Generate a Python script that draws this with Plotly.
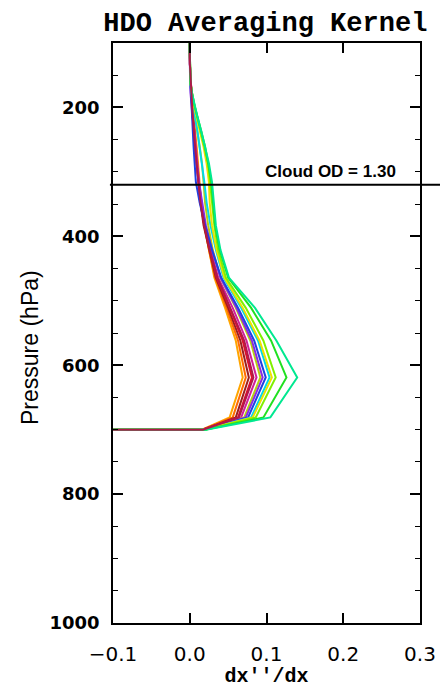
import plotly.graph_objects as go

# Retrieval pressure levels (hPa), surface first
pressure = [700, 681, 619, 562, 511, 464, 421, 383, 348, 316, 287, 261,
            237, 215, 196, 178, 162, 147, 133, 121, 110, 100]

# Fill value drawn at the surface level (below-ground part of the kernel)
surface_fill = -0.1

# Averaging-kernel rows (dx''/dx) for each level, one list per row
k_orange = [0.016, 0.052, 0.069, 0.060, 0.046, 0.032, 0.025, 0.019, 0.015, 0.013, 0.011,
            0.009, 0.007, 0.005, 0.003, 0.002, 0.001, 0.0005, 0.0002, 0.0001, 0.0, 0.0]
k_darkorange = [0.016, 0.056, 0.073, 0.063, 0.048, 0.033, 0.025, 0.019, 0.015, 0.012, 0.010,
                0.008, 0.006, 0.005, 0.003, 0.002, 0.001, 0.0005, 0.0002, 0.0001, 0.0, 0.0]
k_brown = [0.017, 0.060, 0.077, 0.066, 0.050, 0.034, 0.025, 0.018, 0.014, 0.011, 0.009,
           0.007, 0.006, 0.004, 0.003, 0.002, 0.001, 0.0005, 0.0002, 0.0001, 0.0, 0.0]
k_red = [0.017, 0.063, 0.081, 0.069, 0.052, 0.035, 0.026, 0.019, 0.014, 0.011, 0.009,
         0.007, 0.005, 0.004, 0.003, 0.002, 0.001, 0.0005, 0.0002, 0.0001, 0.0, 0.0]
k_magenta = [0.018, 0.067, 0.087, 0.074, 0.056, 0.037, 0.027, 0.020, 0.015, 0.012, 0.010,
             0.008, 0.006, 0.004, 0.003, 0.002, 0.001, 0.0005, 0.0002, 0.0001, 0.0, 0.0]
k_olive = [0.018, 0.071, 0.092, 0.079, 0.060, 0.040, 0.030, 0.024, 0.020, 0.018, 0.016,
           0.013, 0.010, 0.007, 0.004, 0.002, 0.001, 0.0005, 0.0002, 0.0001, 0.0, 0.0]
k_violet = [0.018, 0.073, 0.095, 0.081, 0.061, 0.040, 0.029, 0.021, 0.016, 0.012, 0.009,
            0.007, 0.005, 0.004, 0.002, 0.001, 0.0005, 0.0003, 0.0002, 0.0001, 0.0, 0.0]
k_blue = [0.019, 0.076, 0.099, 0.084, 0.063, 0.041, 0.029, 0.020, 0.013, 0.008, 0.006,
          0.005, 0.004, 0.003, 0.002, 0.001, 0.0005, 0.0003, 0.0002, 0.0001, 0.0, 0.0]
k_cyan = [0.019, 0.080, 0.104, 0.089, 0.067, 0.044, 0.034, 0.027, 0.022, 0.019, 0.016,
          0.013, 0.010, 0.007, 0.004, 0.002, 0.001, 0.0005, 0.0002, 0.0001, 0.0, 0.0]
k_yellow = [0.019, 0.082, 0.107, 0.091, 0.069, 0.045, 0.035, 0.029, 0.026, 0.025, 0.022,
            0.018, 0.013, 0.009, 0.005, 0.003, 0.001, 0.0005, 0.0002, 0.0001, 0.0, 0.0]
k_lime = [0.020, 0.086, 0.112, 0.096, 0.073, 0.047, 0.037, 0.032, 0.029, 0.027, 0.024,
          0.019, 0.014, 0.010, 0.006, 0.003, 0.001, 0.0005, 0.0002, 0.0001, 0.0, 0.0]
k_green = [0.020, 0.096, 0.126, 0.106, 0.080, 0.050, 0.039, 0.033, 0.030, 0.028, 0.024,
           0.020, 0.015, 0.010, 0.006, 0.003, 0.001, 0.0005, 0.0002, 0.0001, 0.0, 0.0]
k_spring = [0.021, 0.105, 0.140, 0.113, 0.085, 0.051, 0.040, 0.034, 0.031, 0.029, 0.025,
            0.020, 0.015, 0.010, 0.006, 0.003, 0.001, 0.0005, 0.0002, 0.0001, 0.0, 0.0]
k_crimson = [0.017, 0.064, 0.083, 0.071, 0.053, 0.036, 0.026, 0.019, 0.014, 0.011, 0.009,
             0.007, 0.005, 0.004, 0.003, 0.002, 0.001, 0.0005, 0.0002, 0.0001, 0.0, 0.0]

rows = [k_orange, k_darkorange, k_brown, k_red, k_magenta, k_olive, k_violet,
        k_blue, k_cyan, k_yellow, k_lime, k_green, k_spring, k_crimson]
row_colors = ["#FFA500", "#FF6A00", "#9A1F1F", "#E0102A", "#D0209A", "#B8D010", "#8A2BE2",
              "#2040E0", "#00D8E8", "#F0E000", "#80F000", "#20E020", "#00E890", "#B01848"]

cloud_pressure = 320
cloud_od = 1.30

x_ticks = [-0.1, 0.0, 0.1, 0.2, 0.3]
x_ticklabels = ["\u22120.1", "0.0", "0.1", "0.2", "0.3"]
y_ticks = [200, 400, 600, 800, 1000]

fig = go.Figure()
for row, col in zip(rows, row_colors):
    fig.add_trace(go.Scatter(
        x=[surface_fill] + row,
        y=[pressure[0]] + pressure,
        mode="lines",
        line=dict(color=col, width=2),
        showlegend=False,
        hoverinfo="skip",
    ))

# Cloud top marker line, running past the right frame edge
fig.add_shape(type="line", xref="paper", yref="y",
              x0=-0.01, x1=1.07, y0=cloud_pressure, y1=cloud_pressure,
              line=dict(color="black", width=2), layer="above")
fig.add_annotation(xref="x", yref="y", x=0.271, y=cloud_pressure,
                   xanchor="right", yanchor="bottom", yshift=2,
                   text="<b>Cloud OD = %.2f</b>" % cloud_od, showarrow=False,
                   font=dict(family="Liberation Sans", size=17, color="black"))

# Vertical axis title, placed beside the tick labels
fig.add_annotation(xref="paper", yref="paper", x=-0.272, y=0.475,
                   xanchor="center", yanchor="middle", textangle=-90,
                   text="Pressure (hPa)", showarrow=False,
                   font=dict(family="Liberation Sans", size=23, color="black",
                             weight=500))

fig.update_layout(
    width=440, height=688,
    margin=dict(l=113, r=20, t=43, b=65, autoexpand=False),
    paper_bgcolor="white", plot_bgcolor="white",
    title=dict(text="HDO Averaging Kernel", x=0.603, xanchor="center",
               y=0.968, yanchor="middle",
               font=dict(family="Liberation Mono", size=27, color="black",
                         weight="bold")),
)

fig.update_xaxes(
    range=[-0.1, 0.3], tickvals=x_ticks, ticktext=x_ticklabels,
    ticks="inside", ticklen=10, tickwidth=1.5, tickcolor="black",
    showline=True, linecolor="black", linewidth=1.8, mirror="ticks",
    showgrid=False, zeroline=False, automargin=False, ticklabelstandoff=12,
    tickfont=dict(family="DejaVu Sans", size=20, color="black"),
    title=dict(text="dx''/dx", standoff=6,
               font=dict(family="Liberation Mono", size=20, color="black",
                         weight="bold")),
)
fig.update_yaxes(
    range=[1000, 100], tickvals=y_ticks,
    ticks="inside", ticklen=10, tickwidth=1.5, tickcolor="black",
    minor=dict(dtick=50, ticks="inside", ticklen=5, tickwidth=1.2, tickcolor="black",
               showgrid=False),
    showline=True, linecolor="black", linewidth=1.8, mirror="ticks",
    showgrid=False, zeroline=False, automargin=False, ticklabelstandoff=8,
    tickfont=dict(family="DejaVu Sans", size=18, color="black", weight="bold"),
)

fig.write_html("out.html")
